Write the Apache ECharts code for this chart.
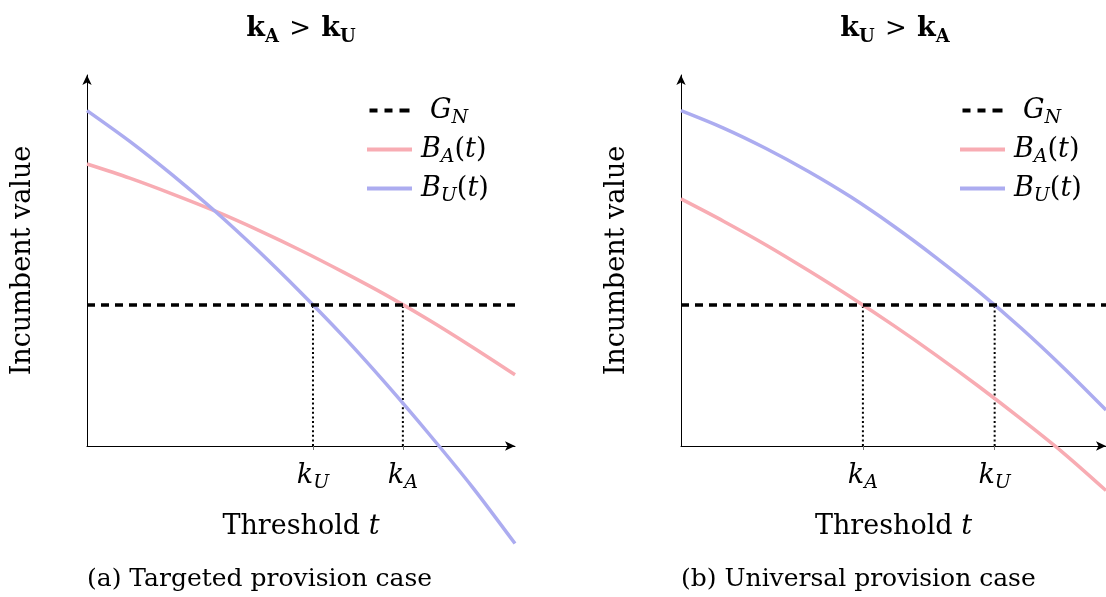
<!DOCTYPE html>
<html lang="en">
<style>
  body {
    margin: 0;
    background: #ffffff;
  }

  #container {
    width: 1106px;
    height: 597px;
  }
</style>

<head>
  <meta charset="UTF-8">
  <script src="https://cdn.jsdelivr.net/npm/echarts@6/dist/echarts.min.js"></script>
</head>

<body>
  <div id="container"></div>
  <script>
    // threshold grid shared by both panels
    var ts = [0, 10, 20, 30, 40, 50, 60, 70, 80, 90, 100];
    // (a) targeted provision case
    var leftBA = [76.0, 72.2, 67.9, 63.3, 58.2, 52.7, 46.8, 40.6, 33.9, 26.7, 19.2];
    var leftBU = [90.4, 82.1, 73.0, 63.2, 52.6, 41.3, 29.4, 16.6, 3.1, -11.0, -26.3];
    var leftK = [52.8, 73.8];
    var leftKNames = ['U', 'A'];
    // (b) universal provision case
    var rightBA = [66.6, 60.6, 54.2, 47.3, 40.1, 32.5, 24.5, 16.1, 7.3, -1.9, -12.0];
    var rightBU = [90.4, 85.7, 80.2, 74.0, 67.1, 59.3, 50.8, 41.7, 31.8, 21.1, 9.7];
    var rightK = [42.8, 73.8];
    var rightKNames = ['A', 'U'];
    // outside value G_N
    var gnX = [0, 100];
    var gnY = [38, 38];

    var serif = 'DejaVu Serif';
    var pink = '#f8acb3';
    var blue = '#acacf0';

    var rich = {
      i: { fontFamily: serif, fontStyle: 'italic', fontSize: 27, color: '#000', lineHeight: 34 },
      n: { fontFamily: serif, fontSize: 27, color: '#000', lineHeight: 34 },
      s: { fontFamily: serif, fontStyle: 'italic', fontSize: 19, color: '#000', lineHeight: 21, verticalAlign: 'bottom' },
      g: { fontFamily: serif, fontStyle: 'italic', fontSize: 27, color: '#000', lineHeight: 34, padding: [0, 0, 0, 9] },
      b: { fontFamily: serif, fontWeight: 'bold', fontSize: 27, color: '#000', lineHeight: 34 },
      r: { fontFamily: serif, fontWeight: 'normal', fontSize: 26, color: '#000', lineHeight: 34, padding: [0, 2, 0, 2] },
      bs: { fontFamily: serif, fontWeight: 'bold', fontSize: 18, color: '#000', lineHeight: 21, verticalAlign: 'bottom' }
    };

    // three short dashes for the G_N legend key
    var dashIcon = 'path://M0,0h8v4h-8z M15,0h8v4h-8z M30,0h10v4h-10z';

    function pairs(xs, ys) {
      return xs.map(function (x, i) { return [x, ys[i]]; });
    }

    function legendText(name) {
      if (name === 'G_N') return '{g|G}{s|N}';
      if (name === 'B_A(t)') return '{i|B}{s|A}{n|(}{i|t}{n|)}';
      return '{i|B}{s|U}{n|(}{i|t}{n|)}';
    }

    function makeAxes(idx, ks, kNames) {
      var x = {
        type: 'value', gridIndex: idx, min: 0, max: 100,
        axisLine: { show: true, onZero: false, symbol: ['none', 'arrow'], symbolSize: [7, 10], lineStyle: { color: '#000', width: 1 } },
        splitLine: { show: false },
        axisTick: { show: true, customValues: ks, length: 4, lineStyle: { color: '#777' } },
        axisLabel: {
          show: true, customValues: ks, margin: 13,
          formatter: function (v) {
            var j = Math.abs(v - ks[0]) < Math.abs(v - ks[1]) ? 0 : 1;
            return '{i|k}{s|' + kNames[j] + '}';
          },
          rich: rich
        },
        name: '{n|Threshold }{i|t}',
        nameLocation: 'middle', nameGap: 64,
        nameTextStyle: { rich: rich }
      };
      var y = {
        type: 'value', gridIndex: idx, min: 0, max: 100,
        axisLine: { show: true, symbol: ['none', 'arrow'], symbolSize: [7, 10], lineStyle: { color: '#000', width: 1 } },
        splitLine: { show: false },
        axisTick: { show: false },
        axisLabel: { show: false },
        name: 'Incumbent value',
        nameLocation: 'middle', nameGap: 51,
        nameTextStyle: { fontFamily: serif, fontSize: 27, color: '#000' }
      };
      return [x, y];
    }

    function makeSeries(idx, ba, bu, ks) {
      var list = [
        {
          name: 'B_A(t)', type: 'line', xAxisIndex: idx, yAxisIndex: idx,
          data: pairs(ts, ba), smooth: 0.3, symbol: 'none', clip: false,
          lineStyle: { color: pink, width: 3.5 }, itemStyle: { color: pink }, z: 3
        },
        {
          name: 'B_U(t)', type: 'line', xAxisIndex: idx, yAxisIndex: idx,
          data: pairs(ts, bu), smooth: 0.3, symbol: 'none', clip: false,
          lineStyle: { color: blue, width: 3.5 }, itemStyle: { color: blue }, z: 3
        },
        {
          name: 'G_N', type: 'line', xAxisIndex: idx, yAxisIndex: idx,
          data: pairs(gnX, gnY), symbol: 'none', clip: false,
          lineStyle: { color: '#000', width: 3.5, type: [8, 6] }, itemStyle: { color: '#000' }, z: 4
        }
      ];
      ks.forEach(function (k) {
        list.push({
          name: 'k' + k, type: 'line', xAxisIndex: idx, yAxisIndex: idx,
          data: [[k, 0], [k, gnY[0]]], symbol: 'none', silent: true,
          lineStyle: { color: '#000', width: 2, type: [2, 2.6] }, z: 2
        });
      });
      return list;
    }

    function makeLegend(left) {
      return {
        orient: 'vertical', left: left, top: 92, itemWidth: 45, itemHeight: 4, itemGap: 8.5,
        data: [
          { name: 'G_N', icon: dashIcon },
          { name: 'B_A(t)', icon: 'rect' },
          { name: 'B_U(t)', icon: 'rect' }
        ],
        formatter: legendText,
        textStyle: { rich: rich, padding: [0, 0, 0, 4] }, selectedMode: false
      };
    }

    var myChart = echarts.init(document.getElementById('container'));

    var axL = makeAxes(0, leftK, leftKNames);
    var axR = makeAxes(1, rightK, rightKNames);

    var option = {
      animation: false,
      backgroundColor: '#fff',
      title: [
        { text: '{b|k}{bs|A}{r| > }{b|k}{bs|U}', left: 296, top: 7, textAlign: 'center', textStyle: { rich: rich } },
        { text: '{b|k}{bs|U}{r| > }{b|k}{bs|A}', left: 890, top: 7, textAlign: 'center', textStyle: { rich: rich } },
        { text: '(a) Targeted provision case', left: 82, top: 562, textStyle: { fontFamily: serif, fontSize: 25, fontWeight: 'normal', color: '#000' } },
        { text: '(b) Universal provision case', left: 676, top: 562, textStyle: { fontFamily: serif, fontSize: 25, fontWeight: 'normal', color: '#000' } }
      ],
      legend: [makeLegend(362), makeLegend(955)],
      grid: [
        { left: 87, top: 75, width: 428, height: 371 },
        { left: 681, top: 75, width: 428, height: 371 }
      ],
      xAxis: [axL[0], axR[0]],
      yAxis: [axL[1], axR[1]],
      series: makeSeries(0, leftBA, leftBU, leftK).concat(makeSeries(1, rightBA, rightBU, rightK))
    };

    myChart.setOption(option);
  </script>
</body>

</html>
